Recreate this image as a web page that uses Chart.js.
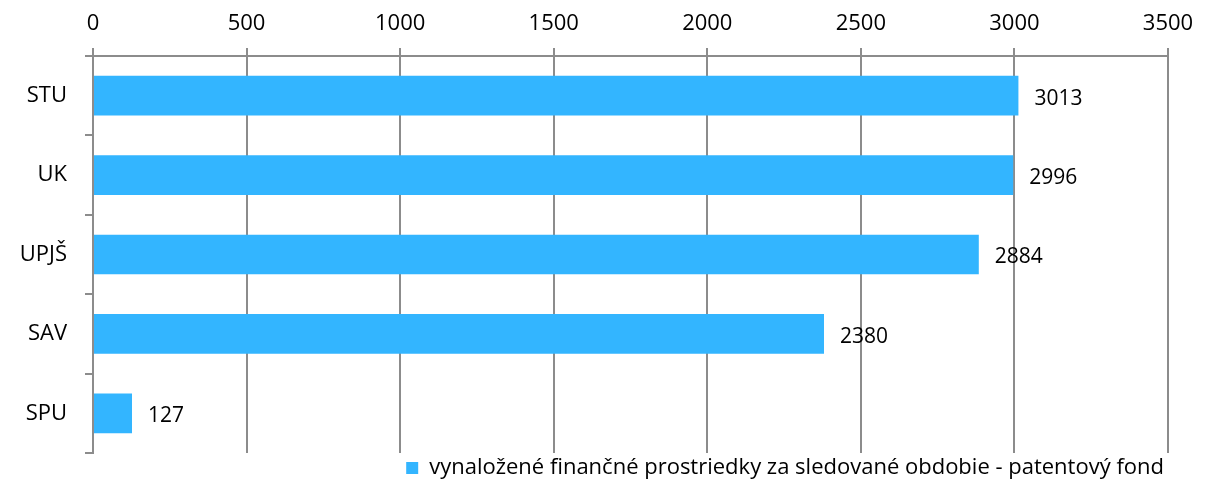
<!DOCTYPE html>
<html>
<head>
<meta charset="utf-8">
<script src="https://cdn.jsdelivr.net/npm/chart.js@4"></script>
<style>
  html, body { margin: 0; padding: 0; background: #fff; }
  #wrap { width: 1206px; height: 489px; position: relative; }
</style>
</head>
<body>
<div id="wrap"><canvas id="chart"></canvas></div>
<script>
// Údaje z grafu
const categories = ['STU', 'UK', 'UPJŠ', 'SAV', 'SPU'];
const values = [3013, 2996, 2884, 2380, 127];
const seriesLabel = 'vynaložené finančné prostriedky za sledované obdobie - patentový fond';
const xMin = 0, xMax = 3500, xStep = 500;

const FONT = "'Open Sans', 'DejaVu Sans', sans-serif";
const GRID = '#8c8c8c';
const BAR = '#33b5ff';

// hodnoty vedľa stĺpcov
const valueLabels = {
  id: 'valueLabels',
  afterDatasetsDraw(chart) {
    const ctx = chart.ctx;
    const meta = chart.getDatasetMeta(0);
    ctx.save();
    ctx.font = '21px ' + FONT;
    ctx.fillStyle = '#000';
    ctx.textAlign = 'left';
    ctx.textBaseline = 'middle';
    meta.data.forEach((bar, i) => {
      ctx.fillText(String(values[i]), bar.x + 16, bar.y + 3);
    });
    ctx.restore();
  }
};

Chart.defaults.font.family = FONT;
Chart.defaults.color = '#000';

new Chart(document.getElementById('chart'), {
  type: 'bar',
  data: {
    labels: categories,
    datasets: [{
      label: seriesLabel,
      data: values,
      backgroundColor: BAR,
      borderWidth: 0,
      barPercentage: 0.5,
      categoryPercentage: 1.0
    }]
  },
  options: {
    indexAxis: 'y',
    responsive: true,
    maintainAspectRatio: false,
    animation: false,
    layout: { padding: { left: 0, right: 38, top: 0, bottom: 0 } },
    plugins: {
      tooltip: { enabled: false },
      legend: {
        position: 'bottom',
        align: 'end',
        labels: {
          boxWidth: 12,
          boxHeight: 12,
          padding: 4,
          font: { size: 22 },
          color: '#000'
        }
      }
    },
    scales: {
      x: {
        position: 'top',
        min: xMin,
        max: xMax,
        ticks: {
          stepSize: xStep, padding: 11, font: { size: 22 }, color: '#000', maxRotation: 0,
          callback: v => String(v)
        },
        grid: { color: GRID, lineWidth: 2, tickLength: 8 },
        border: { color: GRID, width: 2 },
        afterFit(s) { s.height = 56; }
      },
      y: {
        offset: true,
        ticks: { padding: 18, font: { size: 22 }, color: '#000' },
        grid: { offset: true, drawOnChartArea: false, color: GRID, lineWidth: 2, tickLength: 8 },
        border: { color: GRID, width: 2 },
        afterFit(s) { s.width = 93; }
      }
    }
  },
  plugins: [valueLabels]
});
</script>
</body>
</html>
